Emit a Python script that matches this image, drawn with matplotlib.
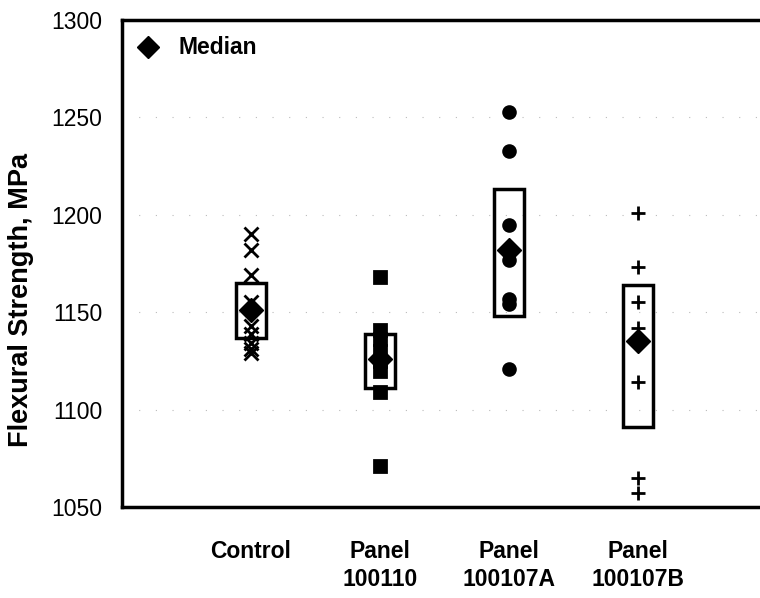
import numpy as np
import matplotlib
matplotlib.use('Agg')
import matplotlib.pyplot as plt
from matplotlib.patches import Rectangle

plt.rcParams['font.family'] = ['Liberation Sans', 'DejaVu Sans']

# data
groups = ['Control', 'Panel\n100110', 'Panel\n100107A', 'Panel\n100107B']
control = [1190, 1182, 1169, 1155, 1143, 1139, 1134, 1131, 1129]
panel_100110 = [1168, 1141, 1136, 1130, 1125, 1120, 1109, 1071]
panel_100107A = [1253, 1233, 1195, 1177, 1157, 1154, 1121]
panel_100107B = [1201, 1173, 1155, 1142, 1114, 1065, 1057]
medians = [1151, 1126, 1182, 1135]
box_low = [1137, 1111, 1148, 1091]
box_high = [1165, 1139, 1213, 1164]

series = [control, panel_100110, panel_100107A, panel_100107B]
markers = ['x', 's', 'o', '+']
msizes = [10, 8, 8.5, 10]

fig = plt.figure(figsize=(7.6, 5.98), dpi=100)
ax = fig.add_axes([122/760, (598-507)/598, 645/760, (507-20)/598])

for i, vals in enumerate(series):
    xpos = np.full(len(vals), i + 1.0)
    ax.plot(xpos, vals, linestyle='none', marker=markers[i], ms=msizes[i],
            color='black', mew=2, zorder=3)
    ax.add_patch(Rectangle((i + 1 - 0.115, box_low[i]), 0.23, box_high[i] - box_low[i],
                           fill=False, edgecolor='black', lw=2.5, zorder=2))

x = np.arange(1, len(groups) + 1)
ax.plot(x, medians, linestyle='none', marker='D', ms=12.5, color='black', zorder=4)

# legend
ax.plot([0.2], [1286], linestyle='none', marker='D', ms=11, color='black', clip_on=False)
ax.text(0.44, 1286, 'Median', fontsize=16.5, fontweight='bold', va='center', ha='left')

# faint scan grid remnants
for g in [1100, 1150, 1200, 1250]:
    ax.axhline(g, color='#bbbbbb', lw=0.8, linestyle=(0, (1, 14)), zorder=1)

ax.set_xlim(0, 5)
ax.set_ylim(1050, 1300)
ax.set_yticks([1050, 1100, 1150, 1200, 1250, 1300])
ax.set_xticks(x)
ax.set_xticklabels(groups, fontsize=16.5, fontweight='bold', linespacing=1.25)
ax.tick_params(axis='x', length=0, pad=24)
ax.tick_params(axis='y', length=0, pad=14, labelsize=16.5)
for s in ax.spines.values():
    s.set_linewidth(2.5)
ax.set_ylabel('Flexural Strength, MPa', fontsize=19.5, fontweight='bold')
ax.yaxis.set_label_coords(-0.137, 0.425)

fig.savefig('out.png', dpi=100)
